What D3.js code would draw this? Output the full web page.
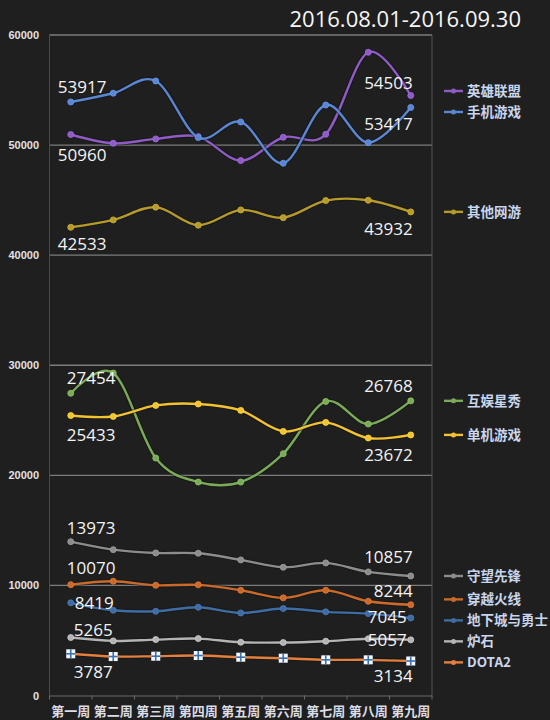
<!DOCTYPE html>
<html>
<head>
<meta charset="utf-8">
<script src="https://cdn.jsdelivr.net/npm/d3@7"></script>
<style>
  html, body { margin: 0; padding: 0; background: #1f1f1f; }
  svg { display: block; }
</style>
</head>
<body>
<div class="chart"></div>
<script>
// week labels and tick values
const weeks = ["第一周","第二周","第三周","第四周","第五周","第六周","第七周","第八周","第九周"];
const yTicks = [0,10000,20000,30000,40000,50000,60000];
const title = "2016.08.01-2016.09.30";

// series values
const names = ["英雄联盟","手机游戏","其他网游","互娱星秀","单机游戏","守望先锋","穿越火线","地下城与勇士","炉石","DOTA2"];
const lol      = [50960,50165,50560,50770,48590,50710,50980,58430,54503];
const mobile   = [53917,54710,55820,50680,52100,48350,53640,50220,53417];
const otherMmo = [42533,43205,44360,42720,44110,43410,44960,44990,43932];
const huyu     = [27454,29290,21570,19390,19390,21970,26710,24660,26768];
const single   = [25433,25350,26350,26480,25900,23990,24810,23390,23672];
const overwatch= [13973,13250,12950,12920,12320,11650,12045,11230,10857];
const cf       = [10070,10380,10010,10050,9560,8870,9560,8560,8244];
const dnf      = [8419,7740,7650,8020,7500,7900,7600,7440,7045];
const hearth   = [5265,4960,5080,5170,4840,4810,4930,5150,5057];
const dota2    = [3787,3540,3570,3630,3480,3390,3240,3240,3134];

const values = [lol,mobile,otherMmo,huyu,single,overwatch,cf,dnf,hearth,dota2];
const colors = ["#8f5cc6","#5a86d2","#b69a2c","#7bab58","#f3c233","#8c8c8c","#c96a2b","#3f6ca3","#b4b4b4","#e3803d"];

// where the first / last value labels sit: [first dx, first dy, last dy]
const labelPlace = {
  "英雄联盟":[-13,26,-7], "手机游戏":[-13,-9,23], "其他网游":[-13,23,23],
  "互娱星秀":[-4,-9,-9], "单机游戏":[-4,25,26], "守望先锋":[-4,-8,-13],
  "穿越火线":[-4,-11,-8], "地下城与勇士":[4,6,5], "炉石":[3,-2,6], "DOTA2":[3,24,21]
};

const W = 550, H = 720;
const svg = d3.select(".chart").append("svg").attr("width",W).attr("height",H);
svg.append("rect").attr("width",W).attr("height",H).attr("fill","#1f1f1f");

const plotLeft = 49.5, plotRight = 432, plotTop = 35, plotBottom = 695.5;
const x = d3.scalePoint().domain(weeks).range([plotLeft,plotRight]).padding(0.5);
const y = d3.scaleLinear().domain([0,60000]).range([plotBottom,plotTop]);

// grid + frame
svg.append("g").selectAll("line")
  .data(yTicks.filter(d=>d>0))
  .join("line")
  .attr("x1",plotLeft).attr("x2",plotRight)
  .attr("y1",d=>y(d)).attr("y2",d=>y(d))
  .attr("stroke","#7c7c7c").attr("stroke-width",1.3);
svg.append("line").attr("x1",plotLeft).attr("x2",plotLeft).attr("y1",plotTop).attr("y2",plotBottom)
  .attr("stroke","#4a4a4a").attr("stroke-width",1);
svg.append("line").attr("x1",plotRight).attr("x2",plotRight).attr("y1",plotTop).attr("y2",plotBottom)
  .attr("stroke","#555").attr("stroke-width",1);

// y labels
svg.append("g").selectAll("text")
  .data(yTicks)
  .join("text")
  .attr("x",39).attr("y",d=>y(d)+4)
  .attr("text-anchor","end")
  .attr("fill","#e2e2e2")
  .style("font-family","Liberation Sans, Arial, sans-serif")
  .style("font-weight","bold").style("font-size","11px")
  .text(d=>d);

// x axis
const xAxis = svg.append("g").attr("transform",`translate(0,${plotBottom})`)
  .call(d3.axisBottom(x).tickSize(0).tickFormat(""));
xAxis.select(".domain").attr("stroke","#6a6a6a").attr("stroke-width",1.2);
const step = x.step();
svg.append("g").selectAll("line")
  .data(d3.range(weeks.length+1))
  .join("line")
  .attr("x1",i=>plotLeft+i*step).attr("x2",i=>plotLeft+i*step)
  .attr("y1",plotBottom).attr("y2",plotBottom+4)
  .attr("stroke","#6a6a6a");
svg.append("g").selectAll("text")
  .data(weeks)
  .join("text")
  .attr("x",d=>x(d)).attr("y",716)
  .attr("text-anchor","middle")
  .attr("fill","#dcdce4")
  .style("font-family","Noto Sans CJK SC")
  .style("font-weight","bold").style("font-size","13px")
  .text(d=>d);

// lines
const line = d3.line()
  .x((d,i)=>x(weeks[i]))
  .y(d=>y(d))
  .curve(d3.curveCardinal.tension(0));

const series = names.map((n,i)=>({name:n, vals:values[i], color:colors[i]}));

const sg = svg.append("g").selectAll("g")
  .data(series)
  .join("g");
sg.append("path")
  .attr("d",d=>line(d.vals))
  .attr("fill","none")
  .attr("stroke","#111").attr("stroke-opacity",0.5)
  .attr("stroke-width",4.5);
sg.append("path")
  .attr("d",d=>line(d.vals))
  .attr("fill","none")
  .attr("stroke",d=>d.color)
  .attr("stroke-width",2.4);

function drawMarker(g, cx, cy, d){
  if(d.name === "DOTA2"){
    g.append("rect").attr("x",cx-4.5).attr("y",cy-4.5).attr("width",9).attr("height",9)
      .attr("fill","#f4f8ff");
    g.append("line").attr("x1",cx).attr("x2",cx).attr("y1",cy-4.5).attr("y2",cy+4.5)
      .attr("stroke","#3a6fb0").attr("stroke-width",1.6);
    g.append("line").attr("x1",cx-4.5).attr("x2",cx+4.5).attr("y1",cy).attr("y2",cy)
      .attr("stroke","#3a6fb0").attr("stroke-width",1.6);
  } else {
    g.append("circle").attr("cx",cx).attr("cy",cy).attr("r",3)
      .attr("fill",d.color).attr("stroke",d3.color(d.color).brighter(0.4)).attr("stroke-width",0.8);
  }
}
sg.each(function(d){
  const g = d3.select(this);
  d.vals.forEach((v,i)=>drawMarker(g, x(weeks[i]), y(v), d));
});

// first / last value labels
const valueFont = "Open Sans, Noto Sans, sans-serif";
sg.each(function(d){
  const g = d3.select(this);
  const p = labelPlace[d.name];
  const n = d.vals.length;
  g.append("text")
    .attr("x",x(weeks[0])+p[0]).attr("y",y(d.vals[0])+p[1])
    .attr("fill","#f4f4f4")
    .style("font-family",valueFont).style("font-size","17px")
    .text(d.vals[0]);
  const side = p[2] > 0 && p[2] < 10;
  g.append("text")
    .attr("x",x(weeks[n-1])+(side?-4:2)).attr("y",y(d.vals[n-1])+p[2])
    .attr("text-anchor","end")
    .attr("fill","#f4f4f4")
    .style("font-family",valueFont).style("font-size","17px")
    .text(d.vals[n-1]);
});

// legend, placed next to each series' last value and pushed apart
const legendItems = series.map(d=>({d:d, y:y(d.vals[d.vals.length-1])}))
  .sort((a,b)=>a.y-b.y);
const gap = 21;
for(let k=0;k<50;k++){
  for(let i=1;i<legendItems.length;i++){
    const a = legendItems[i-1], b = legendItems[i];
    const over = gap-(b.y-a.y);
    if(over>0){ a.y -= over/2; b.y += over/2; }
  }
}
const lg = svg.append("g").selectAll("g")
  .data(legendItems)
  .join("g")
  .attr("transform",d=>`translate(444,${d.y})`);
lg.append("line").attr("x1",0).attr("x2",19).attr("y1",0).attr("y2",0)
  .attr("stroke",d=>d.d.color).attr("stroke-width",2.4);
lg.append("circle").attr("cx",9.5).attr("cy",0).attr("r",2.5)
  .attr("fill",d=>d.d.color);
lg.append("text")
  .attr("x",23).attr("y",5)
  .attr("fill","#c8d6ee")
  .style("font-family","Noto Sans CJK SC")
  .style("font-weight","bold").style("font-size","13.5px")
  .text(d=>d.d.name);

// title
svg.append("text")
  .attr("x",521).attr("y",27)
  .attr("text-anchor","end")
  .attr("fill","#f6f6f6")
  .style("font-family","Open Sans, Noto Sans, sans-serif")
  .style("font-size","22px")
  .text(title);
</script>
</body>
</html>
